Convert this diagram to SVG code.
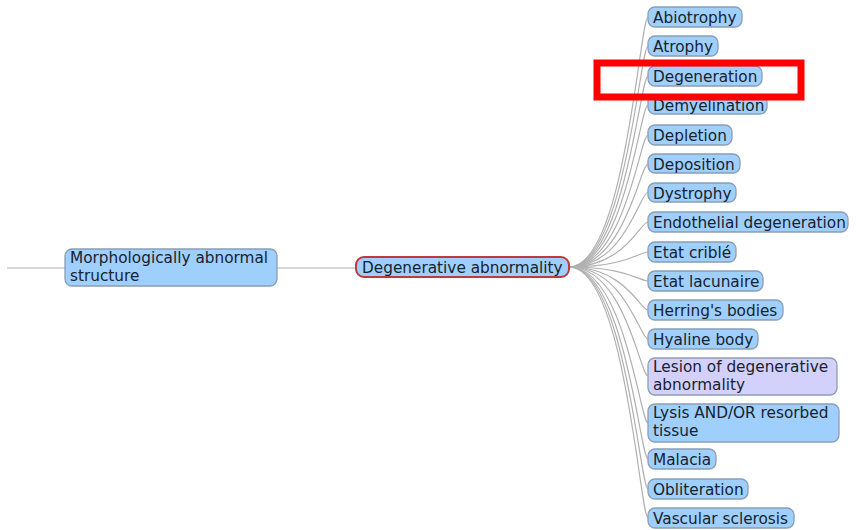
<svg xmlns="http://www.w3.org/2000/svg" width="857" height="530" viewBox="0 0 857 530">
<style>
.n rect{fill:#9fcffc;stroke:#8a9fb3;stroke-width:1.3}
.n.p rect{fill:#d4d0fc}
.n.r rect{stroke:#c0393f;stroke-width:2}
text{font-family:"DejaVu Sans",Verdana,sans-serif;font-size:15.3px;fill:#17222f}
#edges path{fill:none;stroke:#b0b0b0;stroke-width:1.2}
</style>
<rect width="857" height="530" fill="#fff"/>
<g id="edges">
<path d="M7 268H65"/>
<path d="M277 268H356"/>
<path d="M569 267C625 267 640 17 648 17"/>
<path d="M569 267C625 267 640 46 648 46"/>
<path d="M569 267C625 267 640 76 648 76"/>
<path d="M569 267C625 267 640 105 648 105"/>
<path d="M569 267C625 267 640 135 648 135"/>
<path d="M569 267C625 267 640 164 648 164"/>
<path d="M569 267C625 267 640 192 648 192"/>
<path d="M569 267C625 267 640 222 648 222"/>
<path d="M569 267C625 267 640 252 648 252"/>
<path d="M569 267C625 267 640 281 648 281"/>
<path d="M569 267C625 267 640 310 648 310"/>
<path d="M569 267C625 267 640 339 648 339"/>
<path d="M569 267C625 267 640 376 648 376"/>
<path d="M569 267C625 267 640 423 648 423"/>
<path d="M569 267C625 267 640 459 648 459"/>
<path d="M569 267C625 267 640 489 648 489"/>
<path d="M569 267C625 267 640 518 648 518"/>
</g>
<g id="n-morph" class="n"><rect x="65" y="249" width="212" height="37" rx="7"/><text x="70" y="263">Morphologically abnormal</text><text x="70" y="281">structure</text></g>
<g id="n-degab" class="n r"><rect x="356" y="257" width="213" height="20" rx="8"/><text x="362" y="273">Degenerative abnormality</text></g>
<g id="n-abiotrophy" class="n"><rect x="648" y="7" width="94" height="20" rx="7"/><text x="653" y="22.5">Abiotrophy</text></g>
<g id="n-atrophy" class="n"><rect x="648" y="36" width="70" height="20" rx="7"/><text x="653" y="51.5">Atrophy</text></g>
<g id="n-degeneration" class="n"><rect x="648" y="66" width="114" height="20" rx="7"/><text x="653" y="81.5">Degeneration</text></g>
<g id="n-demyelination" class="n"><rect x="648" y="95" width="119" height="19" rx="7"/><text x="653" y="110.5">Demyelination</text></g>
<g id="n-depletion" class="n"><rect x="648" y="125" width="84" height="20" rx="7"/><text x="653" y="140.5">Depletion</text></g>
<g id="n-deposition" class="n"><rect x="648" y="154" width="92" height="19" rx="7"/><text x="653" y="169.5">Deposition</text></g>
<g id="n-dystrophy" class="n"><rect x="648" y="183" width="88" height="19" rx="7"/><text x="653" y="198.5">Dystrophy</text></g>
<g id="n-endothelial" class="n"><rect x="648" y="212" width="200" height="20" rx="7"/><text x="653" y="227.5">Endothelial degeneration</text></g>
<g id="n-crible" class="n"><rect x="648" y="242" width="88" height="20" rx="7"/><text x="653" y="257.5">Etat criblé</text></g>
<g id="n-lacunaire" class="n"><rect x="648" y="271" width="115" height="20" rx="7"/><text x="653" y="286.5">Etat lacunaire</text></g>
<g id="n-herring" class="n"><rect x="648" y="300" width="135" height="20" rx="7"/><text x="653" y="315.5">Herring's bodies</text></g>
<g id="n-hyaline" class="n"><rect x="648" y="329" width="110" height="20" rx="7"/><text x="653" y="344.5">Hyaline body</text></g>
<g id="n-lesion" class="n p"><rect x="648" y="358" width="189" height="37" rx="7"/><text x="653" y="372">Lesion of degenerative</text><text x="653" y="389.5">abnormality</text></g>
<g id="n-lysis" class="n"><rect x="648" y="404" width="191" height="38" rx="7"/><text x="653" y="418">Lysis AND/OR resorbed</text><text x="653" y="435.5">tissue</text></g>
<g id="n-malacia" class="n"><rect x="648" y="449" width="68" height="20" rx="7"/><text x="653" y="464.5">Malacia</text></g>
<g id="n-obliteration" class="n"><rect x="648" y="479" width="100" height="20" rx="7"/><text x="653" y="494.5">Obliteration</text></g>
<g id="n-vascular" class="n"><rect x="648" y="508" width="146" height="20" rx="7"/><text x="653" y="523.5">Vascular sclerosis</text></g>
<rect id="highlight" x="597" y="63" width="204" height="34" fill="none" stroke="#ff0000" stroke-width="7"/>
</svg>
